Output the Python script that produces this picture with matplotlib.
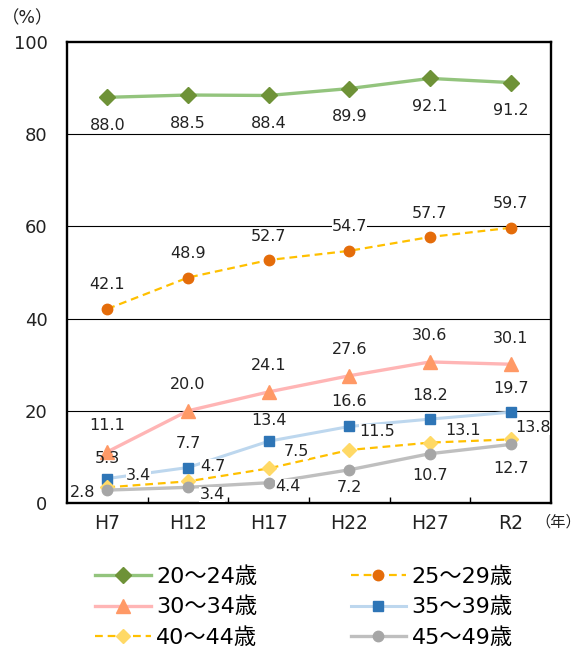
import matplotlib
matplotlib.use("Agg")
import matplotlib.pyplot as plt
from matplotlib.ticker import FixedLocator

plt.rcParams['font.family'] = ['DejaVu Sans', 'Noto Sans CJK JP']

categories = ["H7", "H12", "H17", "H22", "H27", "R2"]
s20_24 = [88.0, 88.5, 88.4, 89.9, 92.1, 91.2]
s25_29 = [42.1, 48.9, 52.7, 54.7, 57.7, 59.7]
s30_34 = [11.1, 20.0, 24.1, 27.6, 30.6, 30.1]
s35_39 = [5.3, 7.7, 13.4, 16.6, 18.2, 19.7]
s40_44 = [3.4, 4.7, 7.5, 11.5, 13.1, 13.8]
s45_49 = [2.8, 3.4, 4.4, 7.2, 10.7, 12.7]
names = ["20～24歳", "25～29歳", "30～34歳", "35～39歳", "40～44歳", "45～49歳"]

# label offsets in pixels (style / position)
off_20 = [(0, -28)] * 6
off_25 = [(0, 24)] * 6
off_30 = [(0, 26)] * 6
off_35 = [(0, 20), (0, 24), (0, 21), (0, 25), (0, 24), (0, 24)]
off_40 = [(31, 12), (25, 15), (28, 17), (28, 18), (33, 12), (22, 12)]
off_45 = [(-25, -2), (24, -7), (19, -4), (0, -18), (0, -22), (0, -24)]

fig = plt.figure(figsize=(5.81, 6.56), dpi=100)
W, H = 581, 656
ax = fig.add_axes([67 / W, 1 - 503 / H, (551 - 67) / W, (503 - 42) / H])

x = list(range(len(categories)))

series = [
    (s20_24, dict(color="#93C47D", lw=2.4, ls="-", marker="D", ms=8,
                  mfc="#6E9237", mec="#6E9237"), off_20, True),
    (s25_29, dict(color="#FFC000", lw=1.6, ls=(0, (3.5, 2.2)), marker="o", ms=7.5,
                  mfc="#E46C0A", mec="#E46C0A"), off_25, True),
    (s30_34, dict(color="#FFB5B5", lw=2.4, ls="-", marker="^", ms=9.5,
                  mfc="#FF9966", mec="#FF9966"), off_30, True),
    (s35_39, dict(color="#BDD7EE", lw=2.2, ls="-", marker="s", ms=7.5,
                  mfc="#2E75B6", mec="#2E75B6"), off_35, False),
    (s40_44, dict(color="#FFC000", lw=1.6, ls=(0, (3.5, 2.2)), marker="D", ms=7,
                  mfc="#FFD966", mec="#FFD966"), off_40, True),
    (s45_49, dict(color="#BFBFBF", lw=2.4, ls="-", marker="o", ms=7.5,
                  mfc="#A6A6A6", mec="#A6A6A6"), off_45, True),
]

handles = []
for (vals, st, offs, boxed), name in zip(series, names):
    ln, = ax.plot(x, vals, label=name, zorder=3, **st)
    handles.append(ln)
    for xi, v, (dx, dy) in zip(x, vals, offs):
        kw = {}
        if boxed:
            kw["bbox"] = dict(boxstyle="square,pad=0.0", fc="white", ec="none")
        ax.annotate(f"{v:.1f}", (xi, v), xytext=(dx, dy), textcoords="offset pixels",
                    ha="center", va="center", fontsize=11.5, color="#222222",
                    zorder=5, **kw)

ax.set_xlim(-0.5, len(categories) - 0.5)
ax.set_ylim(0, 100)
ax.set_yticks([0, 20, 40, 60, 80, 100])
ax.set_yticklabels(["0", "20", "40", "60", "80", "100"])
for g in [20, 40, 60, 80]:
    ax.axhline(g, color="black", lw=0.8, zorder=1)
ax.set_xticks(x)
ax.set_xticklabels(categories)
ax.xaxis.set_minor_locator(FixedLocator([i + 0.5 for i in range(len(categories) - 1)]))
ax.tick_params(axis="x", which="major", length=0, pad=8, labelsize=13.5, colors="#222222")
ax.tick_params(axis="x", which="minor", direction="in", length=4, width=1)
ax.tick_params(axis="y", length=0, pad=14, labelsize=13, colors="#222222")
for sp in ax.spines.values():
    sp.set_linewidth(1.7)
    sp.set_color("black")

fig.text(28 / W, 1 - 18 / H, "（%）", ha="center", va="center", fontsize=12.5, color="#222222")
fig.text(581 / W, 1 - 522 / H, "（年）", ha="right", va="center", fontsize=11, color="#222222")

order = [0, 2, 4, 1, 3, 5]
fig.legend(handles=[handles[i] for i in order], loc="upper left",
           bbox_to_anchor=(95 / W, 1 - 566 / H),
           ncol=2, frameon=False, fontsize=16, handlelength=2.5, handletextpad=0.25,
           columnspacing=4.2, labelspacing=0.45, borderpad=0, borderaxespad=0)

fig.savefig("out.png", dpi=100)
